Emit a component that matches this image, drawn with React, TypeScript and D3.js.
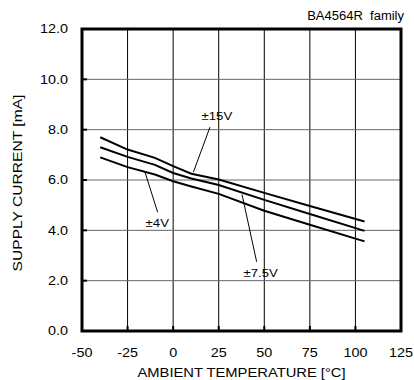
import { useMemo } from 'react';
import * as d3 from 'd3';

// supply current vs ambient temperature, three supply voltages
const temps = [-40, -25, -10, 0, 10, 25, 50, 75, 105];
const v15 = [7.7, 7.21, 6.88, 6.55, 6.25, 6.02, 5.49, 4.97, 4.35];
const v75 = [7.3, 6.92, 6.6, 6.28, 6.06, 5.8, 5.21, 4.65, 3.98];
const v4 = [6.9, 6.51, 6.22, 5.95, 5.74, 5.45, 4.78, 4.22, 3.56];

const xTicks = [-50, -25, 0, 25, 50, 75, 100, 125];
const yTicks = [0, 2, 4, 6, 8, 10, 12];

// label text, label position, leader line from -> to (all in data units)
const labels = [
  { text: '±15V', at: [24, 8.55], from: [20.2, 8.1], to: [11.1, 6.31] },
  { text: '±4V', at: [-8.7, 4.29], from: [-8.5, 4.72], to: [-15.4, 6.3] },
  { text: '±7.5V', at: [48, 2.3], from: [45.8, 2.75], to: [37.8, 5.42] },
];

const W = 414;
const H = 380;
const m = { left: 82, right: 13, top: 29, bottom: 49 };
const FONT = '"Liberation Sans", Arial, Helvetica, sans-serif';

function Txt({
  x,
  y,
  children,
  size = 12,
  sx = 1.2,
  anchor = 'middle',
  rotate = 0,
}: {
  x: number;
  y: number;
  children: string;
  size?: number;
  sx?: number;
  anchor?: 'start' | 'middle' | 'end';
  rotate?: number;
}) {
  return (
    <g transform={`translate(${x},${y}) rotate(${rotate}) scale(${sx},1)`}>
      <text
        textAnchor={anchor}
        dy="0.36em"
        fontSize={size}
        fontFamily={FONT}
        fill="#000"
        style={{ whiteSpace: 'pre' }}
      >
        {children}
      </text>
    </g>
  );
}

export default function App() {
  const x = d3.scaleLinear().domain([-50, 125]).range([m.left, W - m.right]);
  const y = d3.scaleLinear().domain([0, 12]).range([H - m.bottom, m.top]);

  const paths = useMemo(() => {
    const line = d3
      .line<number>()
      .x((_, i) => x(temps[i]))
      .y((d) => y(d));
    return [v15, v75, v4].map((s) => line(s) ?? '');
  }, []);

  const [x0, x1] = x.range();
  const [y0, y1] = y.range();

  return (
    <svg
      width={W}
      height={H}
      style={{ position: 'absolute', left: 0, top: 0, background: '#fff' }}
    >
      {/* grid */}
      {xTicks.slice(1, -1).map((t) => (
        <line key={'gx' + t} x1={x(t)} x2={x(t)} y1={y1} y2={y0} stroke="#000" strokeWidth={1} />
      ))}
      {yTicks.slice(1, -1).map((t) => (
        <line key={'gy' + t} x1={x0} x2={x1} y1={y(t)} y2={y(t)} stroke="#666" strokeWidth={1} />
      ))}
      {/* inner ticks */}
      {xTicks.slice(1, -1).map((t) => (
        <line key={'tx' + t} x1={x(t)} x2={x(t)} y1={y0} y2={y0 - 5} stroke="#000" strokeWidth={2} />
      ))}
      {yTicks.slice(1, -1).map((t) => (
        <line key={'ty' + t} x1={x0} x2={x0 + 5} y1={y(t)} y2={y(t)} stroke="#000" strokeWidth={2} />
      ))}

      {/* curves */}
      {paths.map((d, i) => (
        <path key={i} d={d} fill="none" stroke="#000" strokeWidth={2} />
      ))}

      {/* leaders + labels */}
      {labels.map((l) => (
        <g key={l.text}>
          <line
            x1={x(l.from[0])}
            y1={y(l.from[1])}
            x2={x(l.to[0])}
            y2={y(l.to[1])}
            stroke="#000"
            strokeWidth={1}
          />
          <Txt x={x(l.at[0])} y={y(l.at[1])} size={11}>
            {l.text}
          </Txt>
        </g>
      ))}

      {/* frame */}
      <rect
        x={x0}
        y={y1}
        width={x1 - x0}
        height={y0 - y1}
        fill="none"
        stroke="#000"
        strokeWidth={3}
      />

      {/* tick labels */}
      {xTicks.map((t) => (
        <Txt key={'lx' + t} x={x(t)} y={y0 + 22}>
          {String(t)}
        </Txt>
      ))}
      {yTicks.map((t) => (
        <Txt key={'ly' + t} x={x0 - 14} y={y(t)} anchor="end">
          {t.toFixed(1)}
        </Txt>
      ))}

      {/* titles */}
      <Txt x={(x0 + x1) / 2} y={y0 + 41} size={12.5} sx={1.18}>
        AMBIENT TEMPERATURE [°C]
      </Txt>
      <Txt x={17} y={(y0 + y1) / 2 + 3} size={12.5} sx={1.25} rotate={-90}>
        SUPPLY CURRENT [mA]
      </Txt>
      <Txt x={W - 10} y={15} size={12.5} sx={1.04} anchor="end">
        BA4564R  family
      </Txt>
    </svg>
  );
}
